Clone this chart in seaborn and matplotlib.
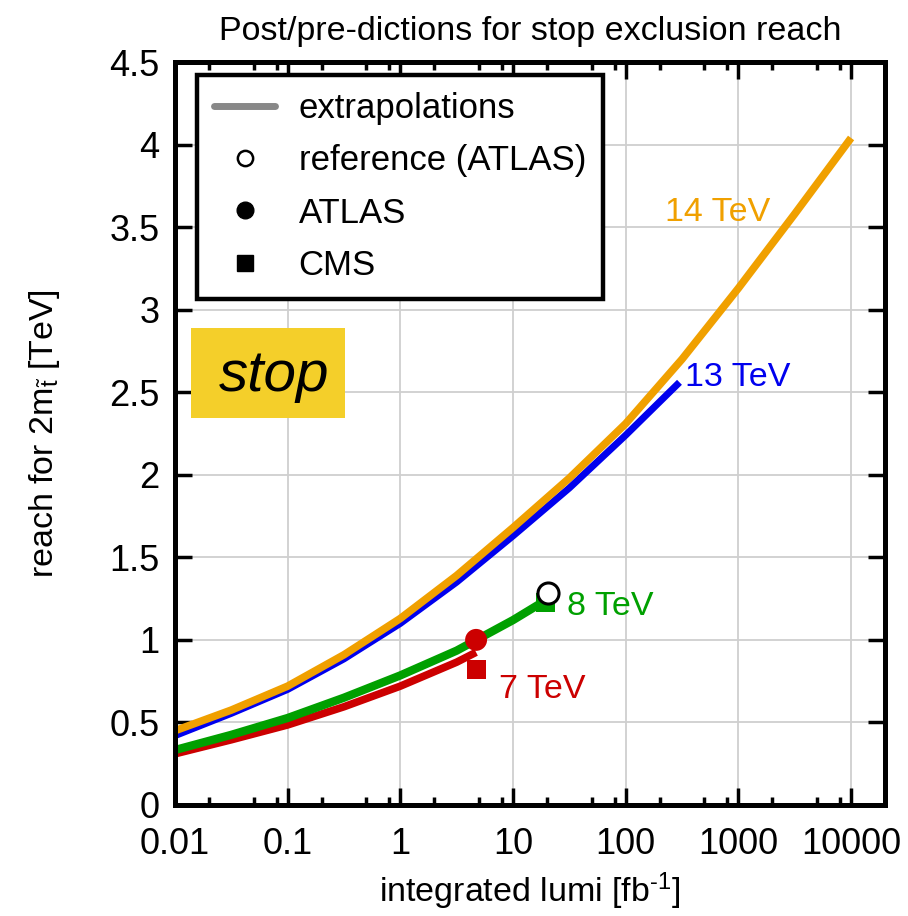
import matplotlib
matplotlib.use("Agg")
import matplotlib.pyplot as plt
import matplotlib.ticker as mticker
from matplotlib.lines import Line2D
from matplotlib.patches import Rectangle
import seaborn as sns
import pandas as pd

# ---- data ----
lumi_14 = [0.01, 0.0316, 0.1, 0.316, 1, 3.16, 10, 31.6, 100, 316, 1000, 3162, 10000]
reach_14 = [0.45, 0.575, 0.72, 0.91, 1.13, 1.39, 1.68, 1.98, 2.31, 2.70, 3.13, 3.58, 4.04]

lumi_13 = [0.01, 0.0316, 0.1, 0.316, 1, 3.16, 10, 31.6, 100, 300]
reach_13 = [0.42, 0.555, 0.70, 0.885, 1.10, 1.35, 1.63, 1.92, 2.24, 2.56]

lumi_8 = [0.01, 0.0316, 0.1, 0.316, 1, 3.16, 10, 19.5]
reach_8 = [0.333, 0.425, 0.527, 0.65, 0.785, 0.935, 1.12, 1.24]

lumi_7 = [0.01, 0.0316, 0.1, 0.316, 1, 3.16, 4.7]
reach_7 = [0.31, 0.395, 0.485, 0.595, 0.72, 0.865, 0.925]

atlas_lumi = [4.7]
atlas_reach = [1.0]
cms_lumi = [4.7, 19.5]
cms_reach = [0.82, 1.225]
ref_lumi = [20.5]
ref_reach = [1.283]

energy_labels = ["14 TeV", "13 TeV", "8 TeV", "7 TeV"]
label_x = [221, 334, 30.3, 7.5]
label_y = [3.59, 2.59, 1.20, 0.70]

x_ticks = [0.01, 0.1, 1, 10, 100, 1000, 10000]
x_ticklabels = ["0.01", "0.1", "1", "10", "100", "1000", "10000"]
y_ticks = [0, 0.5, 1, 1.5, 2, 2.5, 3, 3.5, 4, 4.5]
y_ticklabels = ["0", "0.5", "1", "1.5", "2", "2.5", "3", "3.5", "4", "4.5"]

ORANGE = "#f0a000"
BLUE = "#0000ee"
GREEN = "#00a000"
RED = "#cc0000"
YELLOW = "#f4cf2a"

sns.set_theme(style="ticks")
plt.rcParams["font.family"] = ["Liberation Sans", "DejaVu Sans"]
plt.rcParams["mathtext.fontset"] = "custom"
plt.rcParams["mathtext.rm"] = "Liberation Sans"
plt.rcParams["mathtext.it"] = "Liberation Sans:italic"
for k in ["text.color", "axes.labelcolor", "xtick.color", "ytick.color", "axes.edgecolor"]:
    plt.rcParams[k] = "black"

fig = plt.figure(figsize=(9.08, 9.16), dpi=100)
ax = fig.add_axes([175 / 908, 1 - 805 / 916, 710 / 908, 743 / 916])

ax.set_xscale("log")
ax.set_xlim(0.01, 20000)
ax.set_ylim(0, 4.5)

# grid
ax.grid(True, which="major", color="#cfcfcf", lw=1.3, zorder=0)

series = [
    (lumi_7, reach_7, RED, 5.5),
    (lumi_8, reach_8, GREEN, 6.0),
    (lumi_13, reach_13, BLUE, 5.0),
    (lumi_14, reach_14, ORANGE, 5.5),
]
for lx, ly, col, lw in series:
    df = pd.DataFrame({"lumi": lx, "reach": ly})
    sns.lineplot(data=df, x="lumi", y="reach", ax=ax, color=col, linewidth=lw,
                 solid_capstyle="butt", solid_joinstyle="round", zorder=3)

# data points
sns.scatterplot(x=[cms_lumi[1]], y=[cms_reach[1]], ax=ax, marker="s", s=190,
                color=GREEN, edgecolor="none", zorder=4)
sns.scatterplot(x=ref_lumi, y=ref_reach, ax=ax, marker="o", s=230,
                facecolor="white", edgecolor="black", linewidth=2.2, zorder=5)
sns.scatterplot(x=[cms_lumi[0]], y=[cms_reach[0]], ax=ax, marker="s", s=190,
                color=RED, edgecolor="none", zorder=4)
sns.scatterplot(x=atlas_lumi, y=atlas_reach, ax=ax, marker="o", s=250,
                color=RED, edgecolor="none", zorder=5)

# energy labels
for txt, xx, yy, col in zip(energy_labels, label_x, label_y, [ORANGE, BLUE, GREEN, RED]):
    ax.text(xx, yy, txt, color=col, fontsize=24.5, ha="left", va="center", zorder=6)

# ticks
ax.set_xticks(x_ticks)
ax.set_xticklabels(x_ticklabels)
ax.xaxis.set_minor_locator(mticker.LogLocator(base=10, subs=[2, 5, 8]))
ax.xaxis.set_minor_formatter(mticker.NullFormatter())
ax.set_yticks(y_ticks)
ax.set_yticklabels(y_ticklabels)
ax.tick_params(which="major", direction="in", length=12, width=2.5,
               top=True, right=True, labelsize=26, colors="black")
ax.tick_params(axis="y", which="major", pad=11)
ax.tick_params(axis="x", which="major", pad=16)
ax.tick_params(which="minor", direction="in", length=6, width=2.5,
               top=True, right=True)
for sp in ax.spines.values():
    sp.set_linewidth(3.6)
    sp.set_color("black")
    sp.set_zorder(10)

ax.set_xlabel(r"integrated lumi [fb$^{\text{-1}}$]", fontsize=24.5, labelpad=6)
ax.set_ylabel(r"reach for 2m$_{\tilde{\mathrm{t}}}$ [TeV]", fontsize=24.5, labelpad=34)
ax.set_title("Post/pre-dictions for stop exclusion reach", fontsize=24.5, pad=16)

# stop box
ax.add_patch(Rectangle((0.0225, 0.521), 0.217, 0.121, transform=ax.transAxes,
                       facecolor=YELLOW, edgecolor="none", zorder=6))
ax.text(0.14, 0.578, "stop", transform=ax.transAxes, fontsize=42, style="italic",
        ha="center", va="center", zorder=7)

# legend
handles = [
    Line2D([], [], color="#888888", lw=5),
    Line2D([], [], ls="none", marker="o", ms=11, mfc="white", mec="black", mew=1.8),
    Line2D([], [], ls="none", marker="o", ms=12, color="black"),
    Line2D([], [], ls="none", marker="s", ms=11, color="black"),
]
labels = ["extrapolations", "reference (ATLAS)", "ATLAS", "CMS"]
leg = ax.legend(handles, labels, loc="upper left", bbox_to_anchor=(0.031, 0.9825),
                borderaxespad=0, fontsize=25, frameon=True, fancybox=False,
                handlelength=1.75, handletextpad=0.68, labelspacing=0.55,
                borderpad=0.5)
leg.get_frame().set_edgecolor("black")
leg.get_frame().set_linewidth(3.2)
leg.get_frame().set_alpha(1)
leg.set_zorder(8)

fig.savefig("out.png", dpi=100)
